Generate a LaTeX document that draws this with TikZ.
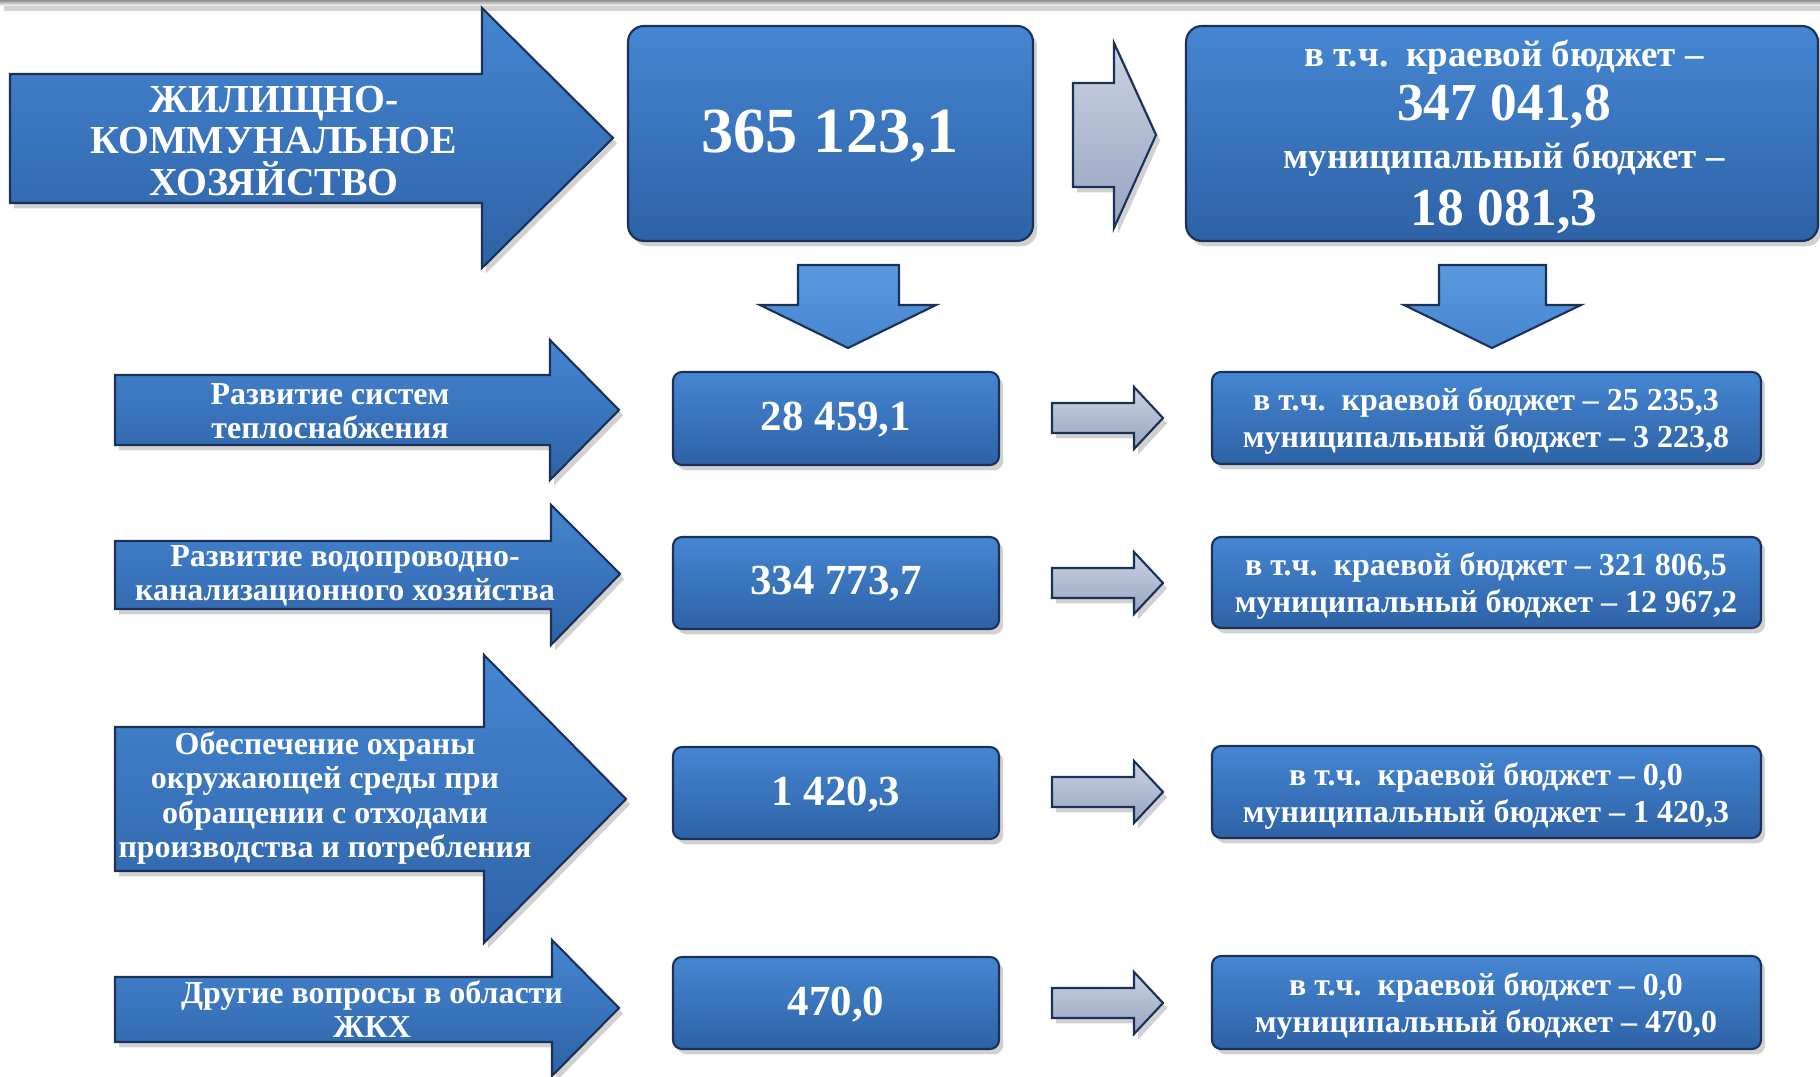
\documentclass[tikz,border=0pt]{standalone}
\usepackage{fontspec}
\setmainfont{Liberation Serif}
\usetikzlibrary{shadows}

\definecolor{boxtop}{HTML}{4586D2}
\definecolor{boxbot}{HTML}{2E62A6}
\definecolor{boxline}{HTML}{1B3155}
\definecolor{downtop}{HTML}{5A9AE0}
\definecolor{downbot}{HTML}{4685D0}
\definecolor{greytop}{HTML}{CBD3E2}
\definecolor{greybot}{HTML}{96A4C0}

\begin{document}
\begin{tikzpicture}[x=0.1mm, y=-0.1mm,
  shade/.style={drop shadow={shadow xshift=1.2pt, shadow yshift=-1.5pt, opacity=0.3, fill=black!60}},
  bluebox/.style={draw=boxline, line width=0.6pt, rounded corners=0.9mm, top color=boxtop, bottom color=boxbot, shade},
  bigbox/.style={bluebox, rounded corners=1.6mm},
  bluearrow/.style={draw=boxline, line width=0.6pt, top color=boxtop, bottom color=boxbot, shade},
  downarrow/.style={draw=boxline, line width=0.6pt, top color=downtop, bottom color=downbot},
  greyarrow/.style={draw=boxline, line width=0.6pt, top color=greytop, bottom color=greybot, shade},
  whitetext/.style={text=white, align=center, inner sep=0pt},
  headtxt/.style={whitetext, font=\bfseries\fontsize{11.3}{11.7}\selectfont},
  rowtxt/.style={whitetext, font=\bfseries\fontsize{9.1}{9.8}\selectfont},
  bignum/.style={whitetext, font=\bfseries\fontsize{18.3}{20}\selectfont},
  topnum/.style={whitetext, font=\bfseries\fontsize{15.2}{16}\selectfont},
  topsmall/.style={whitetext, font=\bfseries\fontsize{10.5}{11}\selectfont},
  num/.style={whitetext, font=\bfseries\fontsize{12.2}{13}\selectfont},
  budget/.style={whitetext, font=\bfseries\fontsize{9.1}{10.4}\selectfont}]

\useasboundingbox (0,0) rectangle (1820,1077);
\shade[top color=black!45, bottom color=white] (0,0) rectangle (1820,6);

% top row
\path[bluearrow] (10,74) -- (482,74) -- (482,8) -- (613,138) -- (482,268) -- (482,203) -- (10,203) -- cycle;
\node[headtxt] (jkh) at (274,141) {ЖИЛИЩНО-\\КОММУНАЛЬНОЕ\\ХОЗЯЙСТВО};

\path[bigbox] (628,26) rectangle (1033,241);
\node[bignum] (total) at (830,136) {365 123,1};

\path[greyarrow] (1073,83) -- (1114,83) -- (1114,43) -- (1156,135) -- (1114,228) -- (1114,187) -- (1073,187) -- cycle;

\path[bigbox] (1186,26) rectangle (1818,241);
\node[topsmall] (kraj) at (1504,57) {в т.ч.\ \ краевой бюджет –};
\node[topnum] (krajnum) at (1504,107) {347 041,8};
\node[topsmall] (mun) at (1504,159) {муниципальный бюджет –};
\node[topnum] (munnum) at (1504,212) {18 081,3};

% down arrows
\path[downarrow] (798,265) -- (899,265) -- (899,305) -- (936,305) -- (848,348) -- (760,305) -- (798,305) -- cycle;
\path[downarrow] (1439,265) -- (1546,265) -- (1546,305) -- (1581,305) -- (1492,348) -- (1404,305) -- (1439,305) -- cycle;

% row 1
\path[bluearrow] (115,375) -- (550,375) -- (550,340) -- (619,410) -- (550,480) -- (550,445) -- (115,445) -- cycle;
\node[rowtxt] (teplo) at (330,411) {Развитие систем\\теплоснабжения};
\path[bluebox] (673,372) rectangle (999,465);
\node[num] (teplonum) at (836,420) {28 459,1};
\path[greyarrow] (1052,403) -- (1134,403) -- (1134,387) -- (1163,418) -- (1134,449) -- (1134,433) -- (1052,433) -- cycle;
\path[bluebox] (1212,372) rectangle (1761,464);
\node[budget] (teplobud) at (1486,421) {в т.ч.\ \ краевой бюджет – 25 235,3\\муниципальный бюджет – 3 223,8};

% row 2
\path[bluearrow] (115,541) -- (551,541) -- (551,505) -- (620,574) -- (551,645) -- (551,609) -- (115,609) -- cycle;
\node[rowtxt] (voda) at (345,576) {Развитие водопроводно-\\канализационного хозяйства};
\path[bluebox] (673,537) rectangle (999,629);
\node[num] (vodanum) at (836,584) {334 773,7};
\path[greyarrow] (1052,568) -- (1134,568) -- (1134,552) -- (1163,583) -- (1134,614) -- (1134,598) -- (1052,598) -- cycle;
\path[bluebox] (1212,537) rectangle (1761,628);
\node[budget] (vodabud) at (1486,586) {в т.ч.\ \ краевой бюджет – 321 806,5\\муниципальный бюджет – 12 967,2};

% row 3
\path[bluearrow] (115,727) -- (484,727) -- (484,655) -- (626,799) -- (484,943) -- (484,871) -- (115,871) -- cycle;
\node[rowtxt] (othody) at (325,798) {Обеспечение охраны\\окружающей среды при\\обращении с отходами\\производства и потребления};
\path[bluebox] (673,747) rectangle (999,839);
\node[num] (othodynum) at (836,795) {1 420,3};
\path[greyarrow] (1052,777) -- (1134,777) -- (1134,761) -- (1163,792) -- (1134,823) -- (1134,807) -- (1052,807) -- cycle;
\path[bluebox] (1212,746) rectangle (1761,838);
\node[budget] (othodybud) at (1486,796) {в т.ч.\ \ краевой бюджет – 0,0\\муниципальный бюджет – 1 420,3};

% row 4
\path[bluearrow] (115,977) -- (552,977) -- (552,940) -- (619,1008) -- (552,1076) -- (552,1042) -- (115,1042) -- cycle;
\node[rowtxt] (drugie) at (372,1009) {Другие вопросы в области\\ЖКХ};
\path[bluebox] (673,957) rectangle (999,1049);
\node[num] (drugienum) at (836,1005) {470,0};
\path[greyarrow] (1052,988) -- (1134,988) -- (1134,972) -- (1163,1003) -- (1134,1034) -- (1134,1018) -- (1052,1018) -- cycle;
\path[bluebox] (1212,956) rectangle (1761,1049);
\node[budget] (drugiebud) at (1486,1006) {в т.ч.\ \ краевой бюджет – 0,0\\муниципальный бюджет – 470,0};

\end{tikzpicture}
\end{document}
